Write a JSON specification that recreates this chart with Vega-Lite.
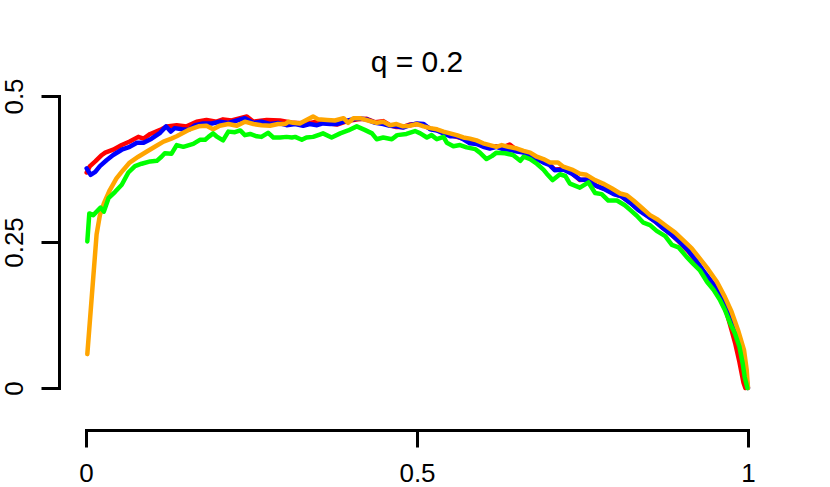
{
  "$schema": "https://vega.github.io/schema/vega-lite/v6.json",
  "autosize": {"type": "none"},
  "padding": {"left": 86, "top": 96, "right": 82, "bottom": 99},
  "width": 662,
  "height": 292,
  "background": "white",
  "config": {
    "view": {"stroke": null},
    "font": "Liberation Sans"
  },
  "title": {
    "text": "q = 0.2",
    "font": "Liberation Sans",
    "fontSize": 30,
    "fontWeight": "normal",
    "color": "black",
    "anchor": "middle",
    "frame": "group",
    "baseline": "alphabetic",
    "offset": -24
  },
  "datasets": {
    "red": [
      {"x":0.001,"y":0.369},{"x":0.006,"y":0.380},{"x":0.014,"y":0.388},{"x":0.024,"y":0.399},{"x":0.029,"y":0.403},{"x":0.041,"y":0.408},{"x":0.054,"y":0.416},{"x":0.066,"y":0.422},{"x":0.079,"y":0.430},{"x":0.087,"y":0.427},{"x":0.097,"y":0.435},{"x":0.112,"y":0.442},{"x":0.122,"y":0.448},{"x":0.137,"y":0.450},{"x":0.152,"y":0.448},{"x":0.167,"y":0.456},{"x":0.182,"y":0.459},{"x":0.197,"y":0.456},{"x":0.207,"y":0.460},{"x":0.220,"y":0.458},{"x":0.243,"y":0.465},{"x":0.253,"y":0.456},{"x":0.273,"y":0.459},{"x":0.293,"y":0.458},{"x":0.313,"y":0.454},{"x":0.333,"y":0.453},{"x":0.349,"y":0.456},
      {"x":0.358,"y":0.455},{"x":0.369,"y":0.453},{"x":0.379,"y":0.451},{"x":0.389,"y":0.455},{"x":0.399,"y":0.458},{"x":0.411,"y":0.460},{"x":0.424,"y":0.461},{"x":0.437,"y":0.455},{"x":0.449,"y":0.457},{"x":0.459,"y":0.450},{"x":0.469,"y":0.447},{"x":0.479,"y":0.447},{"x":0.489,"y":0.451},{"x":0.500,"y":0.452},{"x":0.510,"y":0.450},{"x":0.520,"y":0.444},{"x":0.530,"y":0.442},{"x":0.540,"y":0.437},{"x":0.550,"y":0.433},{"x":0.560,"y":0.430},{"x":0.570,"y":0.427},{"x":0.580,"y":0.421},{"x":0.590,"y":0.419},{"x":0.600,"y":0.415},{"x":0.610,"y":0.411},{"x":0.620,"y":0.414},{"x":0.630,"y":0.412},{"x":0.640,"y":0.417},{"x":0.651,"y":0.407},{"x":0.661,"y":0.404},{"x":0.671,"y":0.398},{"x":0.681,"y":0.393},{"x":0.691,"y":0.387},{"x":0.700,"y":0.383},
      {"x":0.708,"y":0.374},{"x":0.721,"y":0.375},{"x":0.734,"y":0.368},{"x":0.746,"y":0.356},{"x":0.759,"y":0.357},{"x":0.771,"y":0.346},{"x":0.784,"y":0.341},{"x":0.797,"y":0.333},{"x":0.809,"y":0.328},{"x":0.822,"y":0.318},{"x":0.834,"y":0.306},{"x":0.847,"y":0.296},{"x":0.860,"y":0.285},{"x":0.872,"y":0.274},{"x":0.885,"y":0.262},{"x":0.896,"y":0.250},{"x":0.910,"y":0.234},{"x":0.922,"y":0.216},{"x":0.935,"y":0.195},{"x":0.948,"y":0.175},{"x":0.960,"y":0.150},{"x":0.968,"y":0.128},{"x":0.975,"y":0.100},{"x":0.981,"y":0.075},{"x":0.987,"y":0.045},{"x":0.993,"y":0.010},{"x":0.996,"y":0.0}
    ],
    "blue": [
      {"x":0.001,"y":0.376},{"x":0.007,"y":0.365},{"x":0.014,"y":0.370},{"x":0.021,"y":0.380},{"x":0.031,"y":0.390},{"x":0.041,"y":0.399},{"x":0.054,"y":0.408},{"x":0.066,"y":0.413},{"x":0.077,"y":0.420},{"x":0.087,"y":0.420},{"x":0.099,"y":0.427},{"x":0.112,"y":0.437},{"x":0.121,"y":0.448},{"x":0.128,"y":0.439},{"x":0.134,"y":0.445},{"x":0.145,"y":0.443},{"x":0.155,"y":0.442},{"x":0.165,"y":0.450},{"x":0.177,"y":0.453},{"x":0.190,"y":0.453},{"x":0.202,"y":0.456},{"x":0.215,"y":0.454},{"x":0.228,"y":0.458},{"x":0.240,"y":0.462},{"x":0.253,"y":0.454},{"x":0.265,"y":0.456},{"x":0.278,"y":0.452},{"x":0.290,"y":0.454},{"x":0.303,"y":0.450},{"x":0.316,"y":0.452},{"x":0.328,"y":0.449},{"x":0.338,"y":0.452},
      {"x":0.349,"y":0.450},{"x":0.358,"y":0.453},{"x":0.369,"y":0.452},{"x":0.379,"y":0.452},{"x":0.389,"y":0.456},{"x":0.399,"y":0.459},{"x":0.411,"y":0.462},{"x":0.424,"y":0.460},{"x":0.437,"y":0.454},{"x":0.449,"y":0.452},{"x":0.459,"y":0.449},{"x":0.469,"y":0.448},{"x":0.479,"y":0.446},{"x":0.489,"y":0.450},{"x":0.500,"y":0.453},{"x":0.510,"y":0.452},{"x":0.520,"y":0.443},{"x":0.530,"y":0.441},{"x":0.540,"y":0.436},{"x":0.550,"y":0.431},{"x":0.560,"y":0.431},{"x":0.570,"y":0.426},{"x":0.580,"y":0.419},{"x":0.590,"y":0.418},{"x":0.600,"y":0.413},{"x":0.610,"y":0.410},{"x":0.620,"y":0.413},{"x":0.630,"y":0.409},{"x":0.640,"y":0.408},{"x":0.651,"y":0.405},{"x":0.661,"y":0.403},{"x":0.671,"y":0.397},{"x":0.681,"y":0.392},{"x":0.691,"y":0.386},{"x":0.700,"y":0.382},
      {"x":0.708,"y":0.373},{"x":0.721,"y":0.374},{"x":0.734,"y":0.367},{"x":0.746,"y":0.357},{"x":0.759,"y":0.356},{"x":0.771,"y":0.346},{"x":0.784,"y":0.340},{"x":0.797,"y":0.332},{"x":0.809,"y":0.328},{"x":0.822,"y":0.317},{"x":0.834,"y":0.305},{"x":0.847,"y":0.295},{"x":0.860,"y":0.285},{"x":0.872,"y":0.273},{"x":0.885,"y":0.262},{"x":0.896,"y":0.251},{"x":0.910,"y":0.235},{"x":0.922,"y":0.218},{"x":0.935,"y":0.197},{"x":0.948,"y":0.178},{"x":0.960,"y":0.154},{"x":0.970,"y":0.128},{"x":0.980,"y":0.099},{"x":0.988,"y":0.071},{"x":0.993,"y":0.042},{"x":0.997,"y":0.019},{"x":1.0,"y":0.0}
    ],
    "orange": [
      {"x":0.002,"y":0.058},{"x":0.016,"y":0.263},{"x":0.021,"y":0.296},{"x":0.027,"y":0.316},{"x":0.036,"y":0.339},{"x":0.046,"y":0.359},{"x":0.056,"y":0.373},{"x":0.066,"y":0.386},{"x":0.079,"y":0.396},{"x":0.092,"y":0.405},{"x":0.104,"y":0.413},{"x":0.117,"y":0.422},{"x":0.129,"y":0.427},{"x":0.137,"y":0.431},{"x":0.147,"y":0.437},{"x":0.157,"y":0.443},{"x":0.170,"y":0.448},{"x":0.182,"y":0.449},{"x":0.192,"y":0.443},{"x":0.202,"y":0.449},{"x":0.215,"y":0.452},{"x":0.228,"y":0.449},{"x":0.240,"y":0.456},{"x":0.253,"y":0.452},{"x":0.265,"y":0.450},{"x":0.278,"y":0.449},{"x":0.290,"y":0.452},{"x":0.301,"y":0.452},{"x":0.306,"y":0.456},{"x":0.313,"y":0.454},{"x":0.323,"y":0.453},{"x":0.333,"y":0.459},{"x":0.343,"y":0.465},{"x":0.351,"y":0.460},
      {"x":0.364,"y":0.459},{"x":0.376,"y":0.458},{"x":0.389,"y":0.462},{"x":0.396,"y":0.454},{"x":0.404,"y":0.462},{"x":0.414,"y":0.462},{"x":0.426,"y":0.458},{"x":0.439,"y":0.454},{"x":0.449,"y":0.456},{"x":0.459,"y":0.450},{"x":0.469,"y":0.452},{"x":0.479,"y":0.448},{"x":0.489,"y":0.449},{"x":0.500,"y":0.452},{"x":0.510,"y":0.448},{"x":0.520,"y":0.445},{"x":0.530,"y":0.443},{"x":0.540,"y":0.439},{"x":0.550,"y":0.436},{"x":0.560,"y":0.433},{"x":0.570,"y":0.429},{"x":0.580,"y":0.427},{"x":0.590,"y":0.424},{"x":0.600,"y":0.419},{"x":0.610,"y":0.416},{"x":0.620,"y":0.413},{"x":0.628,"y":0.416},{"x":0.638,"y":0.413},{"x":0.651,"y":0.410},{"x":0.661,"y":0.406},{"x":0.671,"y":0.403},{"x":0.681,"y":0.396},{"x":0.691,"y":0.392},{"x":0.701,"y":0.386},
      {"x":0.713,"y":0.386},{"x":0.721,"y":0.379},{"x":0.734,"y":0.374},{"x":0.746,"y":0.367},{"x":0.756,"y":0.365},{"x":0.769,"y":0.356},{"x":0.781,"y":0.350},{"x":0.794,"y":0.342},{"x":0.807,"y":0.333},{"x":0.817,"y":0.330},{"x":0.827,"y":0.321},{"x":0.839,"y":0.309},{"x":0.852,"y":0.296},{"x":0.864,"y":0.288},{"x":0.877,"y":0.277},{"x":0.890,"y":0.266},{"x":0.902,"y":0.253},{"x":0.915,"y":0.239},{"x":0.927,"y":0.222},{"x":0.940,"y":0.203},{"x":0.953,"y":0.182},{"x":0.965,"y":0.156},{"x":0.975,"y":0.131},{"x":0.985,"y":0.099},{"x":0.994,"y":0.065},{"x":0.998,"y":0.031},{"x":1.0,"y":0.0}
    ],
    "green": [
      {"x":0.002,"y":0.251},{"x":0.005,"y":0.299},{"x":0.011,"y":0.296},{"x":0.022,"y":0.309},{"x":0.027,"y":0.302},{"x":0.034,"y":0.325},{"x":0.044,"y":0.336},{"x":0.054,"y":0.348},{"x":0.064,"y":0.369},{"x":0.074,"y":0.380},{"x":0.084,"y":0.384},{"x":0.097,"y":0.388},{"x":0.107,"y":0.389},{"x":0.114,"y":0.396},{"x":0.119,"y":0.402},{"x":0.129,"y":0.401},{"x":0.137,"y":0.416},{"x":0.147,"y":0.413},{"x":0.162,"y":0.418},{"x":0.172,"y":0.425},{"x":0.180,"y":0.425},{"x":0.185,"y":0.430},{"x":0.192,"y":0.436},{"x":0.197,"y":0.431},{"x":0.207,"y":0.424},{"x":0.215,"y":0.439},{"x":0.225,"y":0.438},{"x":0.233,"y":0.441},{"x":0.240,"y":0.433},{"x":0.248,"y":0.435},{"x":0.258,"y":0.431},{"x":0.265,"y":0.430},{"x":0.275,"y":0.437},{"x":0.283,"y":0.429},{"x":0.293,"y":0.429},{"x":0.303,"y":0.430},{"x":0.311,"y":0.429},{"x":0.316,"y":0.430},{"x":0.326,"y":0.425},{"x":0.333,"y":0.429},{"x":0.343,"y":0.430},{"x":0.353,"y":0.434},
      {"x":0.358,"y":0.436},{"x":0.371,"y":0.429},{"x":0.384,"y":0.436},{"x":0.396,"y":0.441},{"x":0.409,"y":0.448},{"x":0.421,"y":0.442},{"x":0.432,"y":0.436},{"x":0.439,"y":0.426},{"x":0.449,"y":0.429},{"x":0.462,"y":0.426},{"x":0.470,"y":0.433},{"x":0.484,"y":0.435},{"x":0.497,"y":0.440},{"x":0.505,"y":0.436},{"x":0.515,"y":0.429},{"x":0.522,"y":0.433},{"x":0.530,"y":0.426},{"x":0.540,"y":0.430},{"x":0.545,"y":0.420},{"x":0.555,"y":0.414},{"x":0.565,"y":0.416},{"x":0.575,"y":0.412},{"x":0.588,"y":0.409},{"x":0.595,"y":0.403},{"x":0.605,"y":0.392},{"x":0.613,"y":0.397},{"x":0.620,"y":0.403},{"x":0.633,"y":0.402},{"x":0.645,"y":0.399},{"x":0.656,"y":0.389},{"x":0.661,"y":0.396},{"x":0.671,"y":0.392},{"x":0.681,"y":0.384},{"x":0.691,"y":0.374},
      {"x":0.696,"y":0.367},{"x":0.705,"y":0.356},{"x":0.716,"y":0.366},{"x":0.724,"y":0.363},{"x":0.731,"y":0.350},{"x":0.746,"y":0.343},{"x":0.759,"y":0.352},{"x":0.769,"y":0.334},{"x":0.779,"y":0.332},{"x":0.789,"y":0.321},{"x":0.802,"y":0.321},{"x":0.814,"y":0.313},{"x":0.822,"y":0.305},{"x":0.832,"y":0.295},{"x":0.842,"y":0.283},{"x":0.852,"y":0.279},{"x":0.862,"y":0.269},{"x":0.875,"y":0.260},{"x":0.885,"y":0.245},{"x":0.895,"y":0.241},{"x":0.907,"y":0.225},{"x":0.917,"y":0.213},{"x":0.927,"y":0.202},{"x":0.938,"y":0.182},{"x":0.948,"y":0.168},{"x":0.958,"y":0.150},{"x":0.965,"y":0.134},{"x":0.973,"y":0.111},{"x":0.980,"y":0.094},{"x":0.987,"y":0.071},{"x":0.992,"y":0.042},{"x":0.995,"y":0.019},{"x":0.999,"y":0.0}
    ]
  },
  "encoding": {
    "x": {
      "field": "x", "type": "quantitative",
      "scale": {"domain": [0, 1], "nice": false, "zero": false},
      "axis": {
        "orient": "bottom", "offset": 42, "title": null, "grid": false,
        "values": [0, 0.5, 1],
        "labelExpr": "datum.value == 0 ? '0' : datum.value == 1 ? '1' : '0.5'",
        "domainColor": "black", "domainWidth": 3, "domainCap": "square",
        "tickColor": "black", "tickWidth": 3, "tickSize": 17,
        "labelColor": "black", "labelFont": "Liberation Sans", "labelFontSize": 26,
        "labelPadding": 13, "labelFlush": false, "labelOverlap": false
      }
    },
    "y": {
      "field": "y", "type": "quantitative",
      "scale": {"domain": [0, 0.5], "nice": false, "zero": false},
      "axis": {
        "orient": "left", "offset": 27, "title": null, "grid": false,
        "values": [0, 0.25, 0.5],
        "labelExpr": "datum.value == 0 ? '0' : datum.value == 0.5 ? '0.5' : '0.25'",
        "domainColor": "black", "domainWidth": 3, "domainCap": "square",
        "tickColor": "black", "tickWidth": 3, "tickSize": 18,
        "labelColor": "black", "labelFont": "Liberation Sans", "labelFontSize": 26,
        "labelAngle": -90, "labelAlign": "center", "labelBaseline": "bottom",
        "labelPadding": 14, "labelFlush": false, "labelOverlap": false
      }
    }
  },
  "layer": [
    {"data": {"name": "red"}, "mark": {"type": "line", "color": "#FF0000", "strokeWidth": 4.5, "strokeCap": "round", "strokeJoin": "round", "clip": false}},
    {"data": {"name": "blue"}, "mark": {"type": "line", "color": "#0000FF", "strokeWidth": 4.5, "strokeCap": "round", "strokeJoin": "round", "clip": false}},
    {"data": {"name": "orange"}, "mark": {"type": "line", "color": "#FFA500", "strokeWidth": 4.5, "strokeCap": "round", "strokeJoin": "round", "clip": false}},
    {"data": {"name": "green"}, "mark": {"type": "line", "color": "#00FF00", "strokeWidth": 4.5, "strokeCap": "round", "strokeJoin": "round", "clip": false}}
  ]
}
